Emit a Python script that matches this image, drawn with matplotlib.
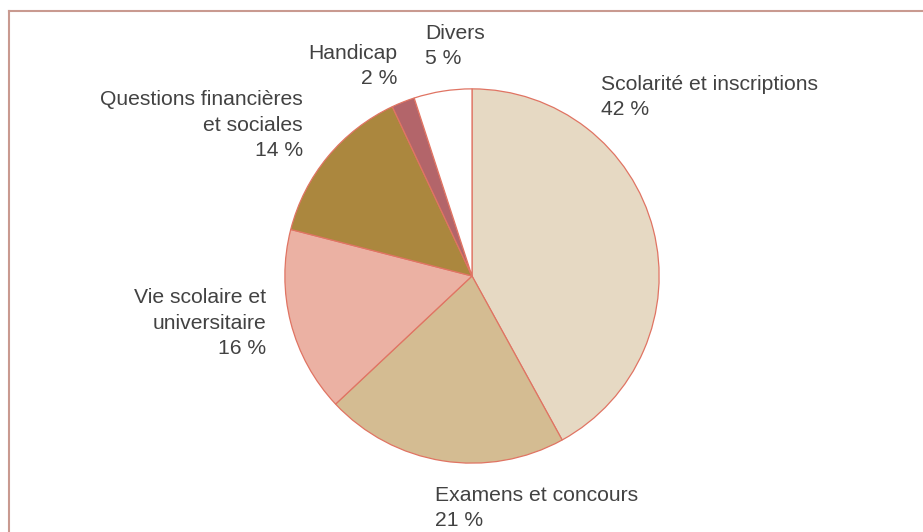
import matplotlib
matplotlib.use("Agg")
import matplotlib.pyplot as plt
from matplotlib.lines import Line2D

categories = ["Scolarité et inscriptions", "Examens et concours", "Vie scolaire et\nuniversitaire",
              "Questions financières\net sociales", "Handicap", "Divers"]
values = [42, 21, 16, 14, 2, 5]
colors = ["#e6d9c3", "#d4bc92", "#ebb1a3", "#ab873e", "#b3656a", "#ffffff"]

W, H = 923, 532
fig = plt.figure(figsize=(W / 100, H / 100), dpi=100)
plt.rcParams['font.family'] = ['Liberation Sans', 'DejaVu Sans']

cx, cy, r = 472, 276, 189
ax = fig.add_axes([(cx - r) / W, (H - cy - r) / H, 2 * r / W, 2 * r / H])
ax.pie(values, colors=colors, startangle=90, counterclock=False, radius=1,
       wedgeprops=dict(edgecolor="#e07463", linewidth=0.9))
ax.set_xlim(-1.01, 1.01)
ax.set_ylim(-1.01, 1.01)
ax.set_aspect('equal')
ax.axis('off')

# label positions (pixels): x, baseline y of last line, alignment
label_pos = [(601, 115, 'left'), (435, 526, 'left'), (266, 354, 'right'),
             (303, 156, 'right'), (397, 84, 'right'), (425, 64, 'left')]
for cat, v, (x, y, ha) in zip(categories, values, label_pos):
    fig.text(x / W, 1 - y / H, f"{cat}\n{v} %", ha=ha, va='baseline', ma=ha,
             fontsize=15.2, color='#424242', linespacing=1.43)

frame_col = "#c99a90"
fig.add_artist(Line2D([8.5 / W, 1], [1 - 10.5 / H, 1 - 10.5 / H], transform=fig.transFigure,
                      color=frame_col, linewidth=1.5))
fig.add_artist(Line2D([8.5 / W, 8.5 / W], [0, 1 - 10.5 / H], transform=fig.transFigure,
                      color=frame_col, linewidth=1.5))

fig.savefig("out.png", dpi=100, facecolor='white')
